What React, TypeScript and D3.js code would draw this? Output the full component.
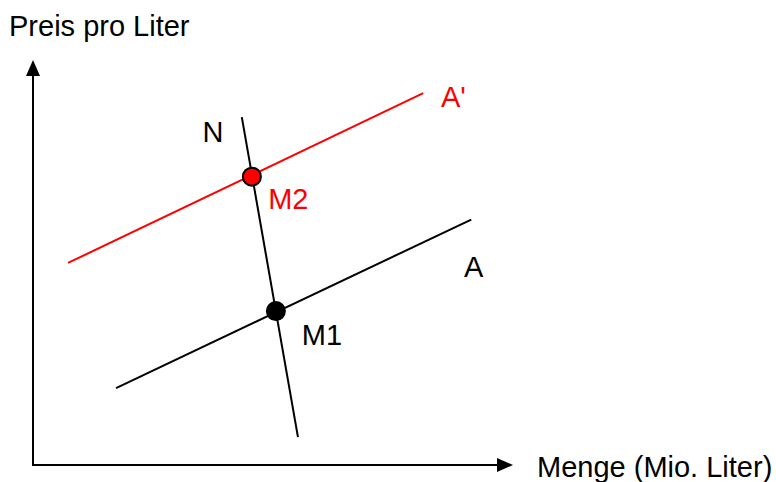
import React, { useEffect, useRef } from "react";
import * as d3 from "d3";

// supply curves and demand line, in abstract units (quantity, price)
const supplyA = [
  { q: 1.73, p: 1.9 },
  { q: 9.13, p: 6.06 },
];
const supplyA2 = [
  { q: 0.73, p: 4.99 },
  { q: 8.13, p: 9.18 },
];
const demandN = [
  { q: 4.35, p: 8.59 },
  { q: 5.52, p: 0.69 },
];
const equilibria = [
  { name: "M1", q: 5.06, p: 3.8, color: "#000000" },
  { name: "M2", q: 4.56, p: 7.12, color: "#ff0000" },
];
const curveLabels = [
  { text: "N", q: 3.53, p: 7.97, color: "#000000" },
  { text: "A'", q: 8.5, p: 8.84, color: "#ff0000" },
  { text: "A", q: 8.98, p: 4.64, color: "#000000" },
  { text: "M2", q: 4.9, p: 6.32, color: "#ff0000" },
  { text: "M1", q: 5.6, p: 2.96, color: "#000000" },
];
const xTitle = "Menge (Mio. Liter)";
const yTitle = "Preis pro Liter";

const W = 776;
const H = 482;

export default function App() {
  const ref = useRef<SVGSVGElement>(null);

  useEffect(() => {
    const svg = d3.select(ref.current);
    svg.selectAll("*").remove();

    const x = d3.scaleLinear().domain([0, 10]).range([33, 513]);
    const y = d3.scaleLinear().domain([0, 10]).range([465, 60]);

    const g = svg.append("g").style("font-family", "'Liberation Sans', Arial, sans-serif");

    // axes with arrow heads
    g.append("line")
      .attr("x1", x(0)).attr("y1", y(0) + 1)
      .attr("x2", x(0)).attr("y2", y(10) + 14)
      .attr("stroke", "#000").attr("stroke-width", 2);
    g.append("path")
      .attr("d", `M${x(0)},${y(10)} L${x(0) - 7},${y(10) + 16} L${x(0) + 7},${y(10) + 16} Z`)
      .attr("fill", "#000");
    g.append("line")
      .attr("x1", x(0) - 1).attr("y1", y(0))
      .attr("x2", x(10) - 14).attr("y2", y(0))
      .attr("stroke", "#000").attr("stroke-width", 2);
    g.append("path")
      .attr("d", `M${x(10)},${y(0)} L${x(10) - 16},${y(0) - 7} L${x(10) - 16},${y(0) + 7} Z`)
      .attr("fill", "#000");

    const line = d3.line<{ q: number; p: number }>().x((d) => x(d.q)).y((d) => y(d.p));

    const curves = [
      { data: supplyA, color: "#000" },
      { data: supplyA2, color: "#ff0000" },
      { data: demandN, color: "#000" },
    ];
    g.selectAll("path.curve")
      .data(curves)
      .join("path")
      .attr("class", "curve")
      .attr("d", (d) => line(d.data))
      .attr("fill", "none")
      .attr("stroke", (d) => d.color)
      .attr("stroke-width", 2);

    g.selectAll("circle")
      .data(equilibria)
      .join("circle")
      .attr("cx", (d) => x(d.q))
      .attr("cy", (d) => y(d.p))
      .attr("r", 9)
      .attr("fill", (d) => d.color)
      .attr("stroke", "#000")
      .attr("stroke-width", 2);

    g.selectAll("text.lbl")
      .data(curveLabels)
      .join("text")
      .attr("class", "lbl")
      .attr("x", (d) => x(d.q))
      .attr("y", (d) => y(d.p))
      .attr("fill", (d) => d.color)
      .attr("font-size", 29)
      .text((d) => d.text);

    g.append("text")
      .attr("x", 9).attr("y", 36)
      .attr("font-size", 29)
      .text(yTitle);
    g.append("text")
      .attr("x", 537).attr("y", 477)
      .attr("font-size", 29)
      .text(xTitle);
  }, []);

  return (
    <svg
      ref={ref}
      width={W}
      height={H}
      style={{ position: "absolute", left: 0, top: 0, background: "#fff" }}
    />
  );
}
